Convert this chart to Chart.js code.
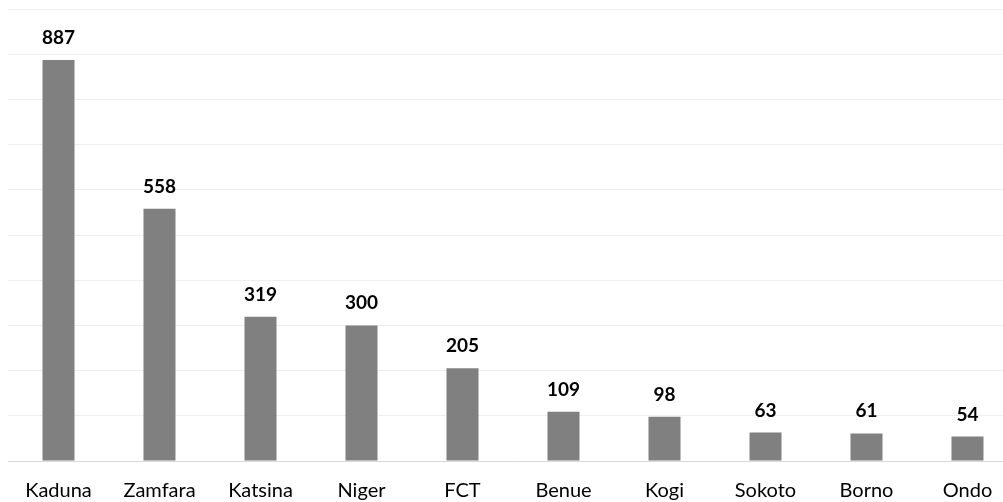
<!DOCTYPE html>
<html>
<head>
<meta charset="utf-8">
<script src="https://cdn.jsdelivr.net/npm/chart.js@4.4.0/dist/chart.umd.min.js"></script>
<style>
    html, body { margin: 0; padding: 0; background: #ffffff; overflow: hidden; }
    #wrap { position: relative; width: 1018px; height: 513px; }
</style>
</head>
<body>
<div id="wrap"><canvas id="myChart"></canvas></div>
<script>
// States and their counts
const states = ["Kaduna", "Zamfara", "Katsina", "Niger", "FCT", "Benue", "Kogi", "Sokoto", "Borno", "Ondo"];
const counts = [887, 558, 319, 300, 205, 109, 98, 63, 61, 54];

// y axis range (ticks are hidden, only the grid is drawn)
const yMin = 0;
const yMax = 1000;
const yStep = 100;

/*
    Writes each bar's value above it
*/
const valueLabels = {
    id: 'valueLabels',
    afterDatasetsDraw(chart) {
        const ctx = chart.ctx;
        const meta = chart.getDatasetMeta(0);
        ctx.save();
        ctx.font = 'bold 19px Lato';
        ctx.fillStyle = '#000000';
        ctx.textAlign = 'center';
        ctx.textBaseline = 'alphabetic';
        meta.data.forEach((bar, i) => {
            ctx.fillText(counts[i], bar.x, bar.y - 16);
        });
        ctx.restore();
    }
};

const ctx = document.getElementById('myChart').getContext('2d');
const myChart = new Chart(ctx, {
    type: 'bar',
    data: {
        labels: states,
        datasets: [{
            data: counts,
            backgroundColor: '#808080',
            borderWidth: 0,
            barPercentage: 0.317,
            categoryPercentage: 1
        }]
    },
    options: {
        responsive: true,
        maintainAspectRatio: false,
        animation: false,
        layout: {
            padding: { left: 8, top: 9, right: 0, bottom: 0 }
        },
        plugins: {
            legend: { display: false },
            tooltip: { enabled: false }
        },
        scales: {
            x: {
                grid: { display: false },
                border: { display: true, color: '#d9d9d9', width: 1 },
                ticks: {
                    color: '#000000',
                    font: { family: 'Lato', size: 20 },
                    padding: 10,
                    maxRotation: 0
                }
            },
            y: {
                min: yMin,
                max: yMax,
                ticks: { display: false, stepSize: yStep },
                grid: { color: '#eeeeee', drawTicks: false },
                border: { display: false }
            }
        }
    },
    plugins: [valueLabels]
});
</script>
</body>
</html>
